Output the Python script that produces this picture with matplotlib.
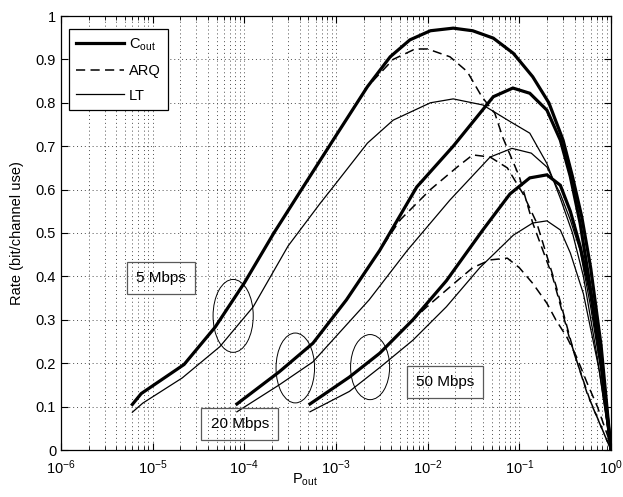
import matplotlib
matplotlib.use("Agg")
import matplotlib.pyplot as plt
from matplotlib.patches import Ellipse
from matplotlib.ticker import LogLocator, FixedLocator, FormatStrFormatter, NullFormatter

plt.rcParams['font.family'] = ['Liberation Sans', 'DejaVu Sans']
plt.rcParams['mathtext.default'] = 'regular'
plt.rcParams['font.size'] = 10.5

# ---- data ----
# 5 Mbps
c5_x = [6e-6, 7.5e-6, 2.2e-5, 4.8e-5, 1e-4, 2.1e-4, 4.2e-4, 9.3e-4, 2.2e-3, 3.9e-3, 6.4e-3,
        1.07e-2, 1.9e-2, 3.1e-2, 5.2e-2, 8.6e-2, 0.14, 0.21, 0.30, 0.38, 0.48, 0.6, 0.78, 1.0]
c5_y = [0.105, 0.13, 0.197, 0.283, 0.385, 0.5, 0.6, 0.714, 0.837, 0.906, 0.945,
        0.966, 0.972, 0.966, 0.949, 0.914, 0.86, 0.8, 0.714, 0.63, 0.537, 0.42, 0.24, 0.0]
a5_x = [6e-6, 7.5e-6, 2.2e-5, 4.8e-5, 1e-4, 2.1e-4, 4.2e-4, 9.3e-4, 2.2e-3, 4.2e-3, 7.3e-3,
        1.0e-2, 1.75e-2, 2.7e-2, 3.9e-2, 5.4e-2, 6.6e-2, 0.10, 0.14, 0.23, 0.35, 0.55, 1.0]
a5_y = [0.105, 0.13, 0.197, 0.283, 0.385, 0.5, 0.6, 0.714, 0.837, 0.9, 0.924,
        0.924, 0.906, 0.872, 0.814, 0.776, 0.72, 0.63, 0.523, 0.40, 0.26, 0.13, 0.0]
l5_x = [6e-6, 7.8e-6, 2.1e-5, 5.4e-5, 1.25e-4, 3.0e-4, 6.7e-4, 9.3e-4, 2.2e-3, 4.2e-3,
        1.07e-2, 1.9e-2, 4.0e-2, 7.9e-2, 0.13, 0.2, 0.28, 0.38, 0.5, 0.7, 1.0]
l5_y = [0.087, 0.108, 0.166, 0.238, 0.33, 0.47, 0.568, 0.606, 0.707, 0.76,
        0.80, 0.809, 0.795, 0.757, 0.73, 0.66, 0.58, 0.50, 0.40, 0.22, 0.0]

# 20 Mbps
c20_x = [8.3e-5, 2.4e-4, 5.6e-4, 1.3e-3, 3.0e-3, 7.6e-3, 1.9e-2, 5.2e-2, 8.5e-2,
         0.13, 0.2, 0.28, 0.36, 0.46, 0.56, 0.78, 1.0]
c20_y = [0.106, 0.18, 0.246, 0.346, 0.46, 0.606, 0.70, 0.814, 0.834,
         0.822, 0.783, 0.714, 0.63, 0.523, 0.41, 0.21, 0.0]
a20_x = [8.3e-5, 2.4e-4, 5.6e-4, 1.3e-3, 3.0e-3, 5.0e-3, 1.07e-2, 2.1e-2, 3.1e-2, 4.8e-2,
         7.4e-2, 0.11, 0.155, 0.25, 0.4, 0.6, 1.0]
a20_y = [0.106, 0.18, 0.246, 0.346, 0.46, 0.53, 0.6, 0.652, 0.68, 0.675,
         0.65, 0.59, 0.523, 0.38, 0.22, 0.11, 0.0]
l20_x = [8.3e-5, 2.4e-4, 5.6e-4, 2.3e-3, 6.0e-3, 1.75e-2, 4.8e-2, 8.3e-2, 0.135,
         0.2, 0.28, 0.36, 0.46, 0.6, 0.78, 1.0]
l20_y = [0.088, 0.15, 0.203, 0.346, 0.46, 0.576, 0.675, 0.695, 0.684,
         0.652, 0.59, 0.53, 0.46, 0.33, 0.18, 0.0]

# 50 Mbps
c50_x = [5.2e-4, 1.4e-3, 3.0e-3, 6.9e-3, 1.6e-2, 4.0e-2, 7.9e-2, 0.13, 0.2,
         0.28, 0.36, 0.46, 0.6, 0.78, 1.0]
c50_y = [0.106, 0.168, 0.223, 0.3, 0.39, 0.507, 0.59, 0.627, 0.634,
         0.61, 0.55, 0.47, 0.36, 0.2, 0.0]
a50_x = [5.2e-4, 1.4e-3, 3.0e-3, 6.9e-3, 9.8e-3, 2.1e-2, 3.1e-2, 4.8e-2, 7.4e-2,
         0.1, 0.14, 0.2, 0.25, 0.33, 0.42, 0.55, 0.71, 0.93, 1.0]
a50_y = [0.106, 0.168, 0.223, 0.3, 0.33, 0.39, 0.42, 0.438, 0.442,
         0.42, 0.384, 0.338, 0.3, 0.26, 0.215, 0.154, 0.1, 0.03, 0.0]
l50_x = [5.2e-4, 1.4e-3, 3.0e-3, 6.9e-3, 1.6e-2, 3.7e-2, 8.6e-2, 0.14, 0.2,
         0.28, 0.36, 0.5, 0.75, 1.0]
l50_y = [0.088, 0.135, 0.19, 0.253, 0.33, 0.42, 0.495, 0.523, 0.528,
         0.507, 0.454, 0.36, 0.18, 0.0]

ytick_vals = [0, 0.1, 0.2, 0.3, 0.4, 0.5, 0.6, 0.7, 0.8, 0.9, 1.0]

fig = plt.figure(figsize=(6.23, 4.97), dpi=100)
ax = fig.add_axes([61/623, 47/497, 550/623, 434/497])

thick = dict(color='k', lw=2.3, solid_joinstyle='miter')
dash = dict(color='k', lw=1.1, dashes=(6, 3.5))
thin = dict(color='k', lw=0.9)

ax.plot(a5_x, a5_y, **dash)
ax.plot(a20_x, a20_y, **dash)
ax.plot(a50_x, a50_y, **dash)
ax.plot(l5_x, l5_y, **thin)
ax.plot(l20_x, l20_y, **thin)
ax.plot(l50_x, l50_y, **thin)
ax.plot(c5_x, c5_y, **thick)
ax.plot(c20_x, c20_y, **thick)
ax.plot(c50_x, c50_y, **thick)

ax.set_xscale('log')
ax.set_xlim(1e-6, 1)
ax.set_ylim(0, 1)
ax.yaxis.set_major_locator(FixedLocator(ytick_vals))
ax.yaxis.set_major_formatter(FormatStrFormatter('%g'))
ax.xaxis.set_major_locator(LogLocator(base=10, numticks=10))
ax.xaxis.set_minor_locator(LogLocator(base=10, subs=range(2, 10), numticks=100))
ax.xaxis.set_minor_formatter(NullFormatter())

gridkw = dict(color='0.3', lw=0.7, linestyle=(0, (1, 3)))
ax.grid(True, which='major', axis='both', **gridkw)
ax.grid(True, which='minor', axis='x', **gridkw)
ax.set_axisbelow(True)

ax.tick_params(which='both', direction='in', top=True, right=True, labelsize=10.5)
ax.tick_params(which='major', length=5, width=0.8)
ax.tick_params(which='minor', length=3, width=0.6)
ax.tick_params(axis='x', which='major', pad=6)
for s in ax.spines.values():
    s.set_linewidth(0.9)

ax.set_xlabel('P$_{out}$', fontsize=10.5)
ax.xaxis.set_label_coords((305 - 61) / 550, -0.05)
ax.set_ylabel('Rate (bit/channel use)', fontsize=10.5)
ax.yaxis.set_label_coords(-0.068, 0.5)

# legend
h1, = ax.plot([], [], **thick)
h2, = ax.plot([], [], **dash)
h3, = ax.plot([], [], **thin)
leg = ax.legend([h1, h2, h3], ['C$_{out}$', 'ARQ', 'LT'], loc='upper left',
                bbox_to_anchor=(8/550, 1 - 13/434), borderaxespad=0,
                fancybox=False, framealpha=1, edgecolor='k', fontsize=10.5,
                handlelength=3.3, handletextpad=0.3, labelspacing=0.75, borderpad=0.5)
leg.get_frame().set_linewidth(0.9)

# ellipses marking the groups
for cx, cy, w, h in [(0.313, 0.309, 0.073, 0.168),
                     (0.426, 0.189, 0.070, 0.161),
                     (0.562, 0.191, 0.071, 0.150)]:
    ax.add_patch(Ellipse((cx, cy), w, h, transform=ax.transAxes,
                         fill=False, ec='k', lw=0.7))

boxkw = dict(boxstyle='square,pad=0.6', fc='none', ec='0.35', lw=0.9)
ax.text(0.182, 0.396, '5 Mbps', transform=ax.transAxes, ha='center', va='center',
        fontsize=11, bbox=boxkw)
ax.text(0.325, 0.060, '20 Mbps', transform=ax.transAxes, ha='center', va='center',
        fontsize=11, bbox=boxkw)
ax.text(0.698, 0.157, '50 Mbps', transform=ax.transAxes, ha='center', va='center',
        fontsize=11, bbox=boxkw)

fig.savefig('out.png', dpi=100)
